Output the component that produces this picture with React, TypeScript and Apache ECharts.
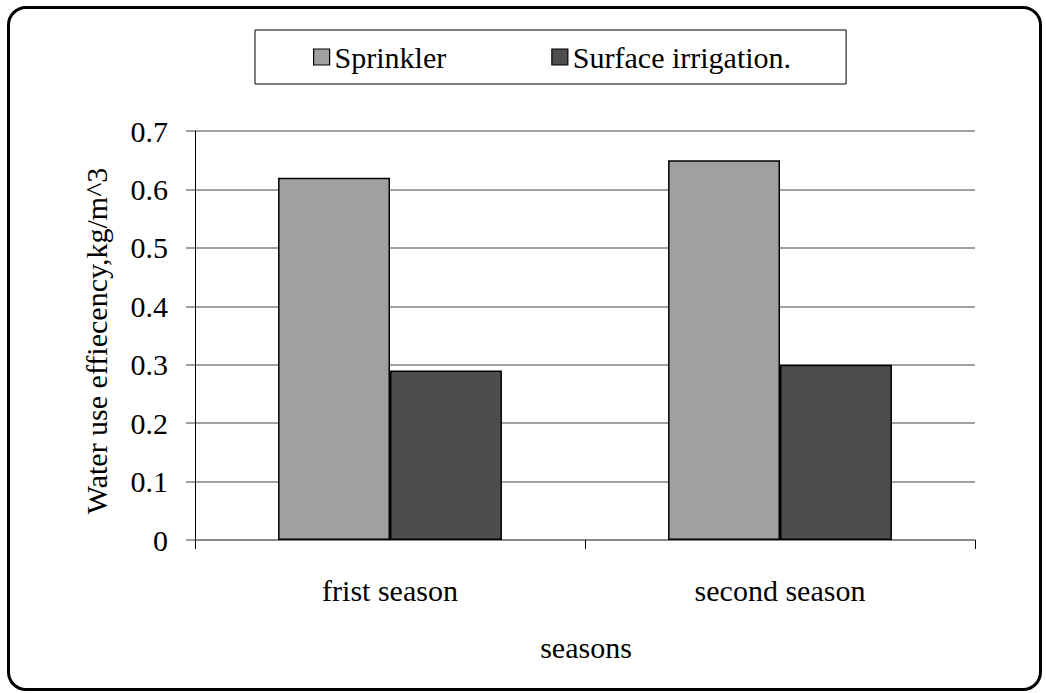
import React, { useEffect, useRef } from "react";
import * as echarts from "echarts";

const categories = ["frist season", "second season"];
const sprinkler = [0.62, 0.65];
const surface = [0.29, 0.3];
const seriesNames = ["Sprinkler", "Surface irrigation."];
const yTitle = "Water use effiecency,kg/m^3";
const xTitle = "seasons";

const FONT = "Liberation Serif";

export default function App() {
  const ref = useRef<HTMLDivElement>(null);
  useEffect(() => {
    if (!ref.current) return;
    const chart = echarts.init(ref.current, null, { renderer: "svg" });
    chart.setOption({
      animation: false,
      backgroundColor: "#fff",
      textStyle: { fontFamily: FONT },
      grid: { left: 195, right: 71, top: 131, bottom: 153, containLabel: false },
      legend: {
        data: seriesNames,
        left: 255,
        top: 30,
        padding: [12, 55, 12, 58],
        borderColor: "#000",
        borderWidth: 1,
        backgroundColor: "#fff",
        itemWidth: 16,
        itemHeight: 16,
        itemGap: 105,
        icon: "rect",
        itemStyle: { borderColor: "#000", borderWidth: 1.2 },
        textStyle: { fontFamily: FONT, fontSize: 30, color: "#000" },
      },
      xAxis: {
        type: "category",
        data: categories,
        boundaryGap: true,
        axisLine: { show: true, lineStyle: { color: "#808080", width: 1.5 } },
        axisTick: { show: true, length: 9, lineStyle: { color: "#000", width: 1 } },
        axisLabel: { fontFamily: FONT, fontSize: 30, color: "#000", margin: 35 },
        splitLine: { show: false },
      },
      yAxis: {
        type: "value",
        min: 0,
        max: 0.7,
        interval: 0.1,
        axisLine: { show: true, lineStyle: { color: "#000", width: 1 } },
        axisTick: { show: true, length: 9, lineStyle: { color: "#808080", width: 1.5 } },
        axisLabel: { fontFamily: FONT, fontSize: 30, color: "#000", margin: 27 },
        splitLine: { show: true, lineStyle: { color: "#808080", width: 1.5 } },
      },
      series: [
        {
          name: seriesNames[0],
          type: "bar",
          data: sprinkler,
          barGap: "0%",
          barCategoryGap: "42.6%",
          itemStyle: { color: "#a0a0a0", borderColor: "#000", borderWidth: 1.5 },
        },
        {
          name: seriesNames[1],
          type: "bar",
          data: surface,
          barGap: "0%",
          barCategoryGap: "42.6%",
          itemStyle: { color: "#4d4d4d", borderColor: "#000", borderWidth: 1.5 },
        },
      ],
      graphic: [
        {
          type: "text",
          x: 96,
          y: 341,
          rotation: Math.PI / 2,
          style: { text: yTitle, fontFamily: FONT, fontSize: 30, fill: "#000", align: "center", verticalAlign: "middle" },
        },
        {
          type: "text",
          x: 586,
          y: 647,
          style: { text: xTitle, fontFamily: FONT, fontSize: 30, fill: "#000", align: "center", verticalAlign: "middle" },
        },
      ],
    });
    return () => chart.dispose();
  }, []);
  return (
    <div style={{ position: "fixed", left: 0, top: 0, width: 1046, height: 693, background: "#fff" }}>
      <div ref={ref} style={{ width: 1046, height: 693 }} />
      <div
        style={{
          position: "absolute",
          left: 7,
          top: 6,
          width: 1035,
          height: 685,
          boxSizing: "border-box",
          border: "3px solid #000",
          borderRadius: 19,
          pointerEvents: "none",
        }}
      />
    </div>
  );
}
